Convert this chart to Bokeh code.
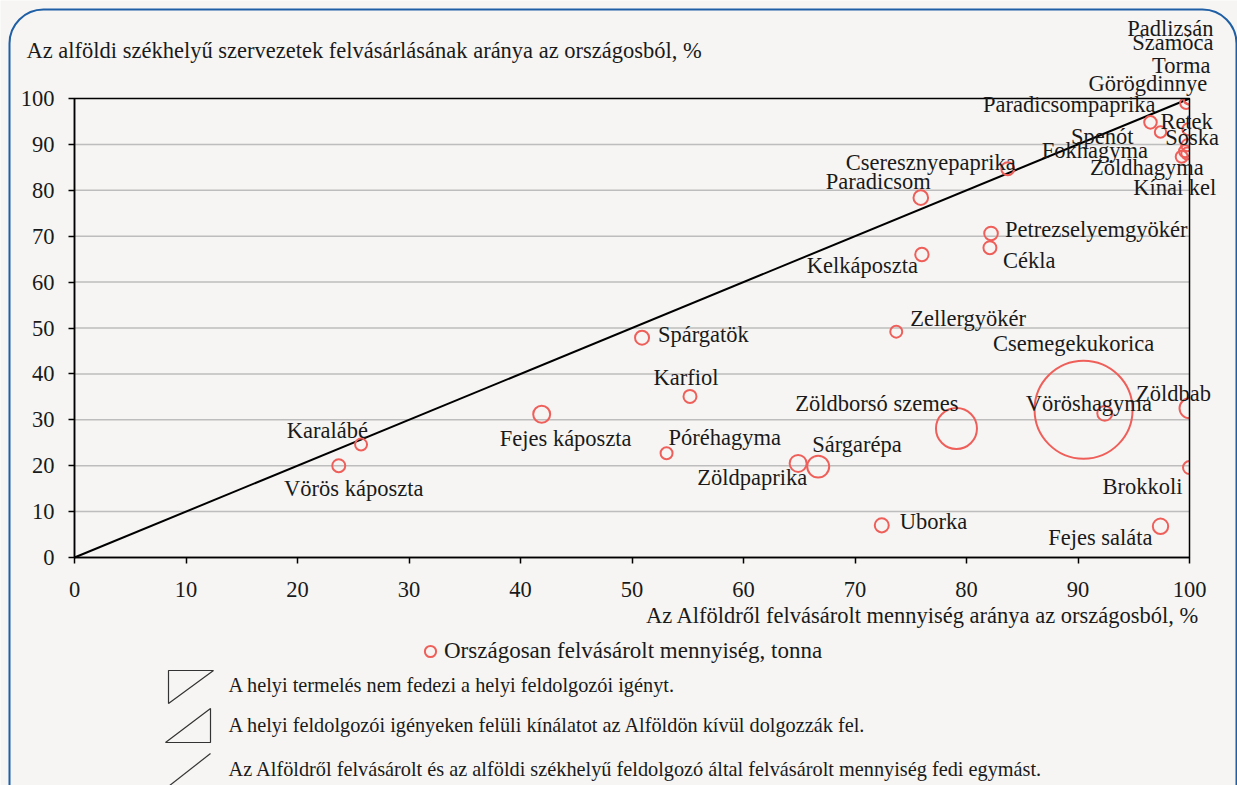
from bokeh.plotting import figure
from bokeh.models import (ColumnDataSource, LabelSet, Label, BoxAnnotation, PolyAnnotation,
                          Legend, LegendItem, FixedTicker, Range1d)
from bokeh.embed import file_html
from bokeh.resources import INLINE
from bokeh.core.properties import value, field

# ---------------- data ----------------
products = ["Vörös káposzta", "Karalábé", "Fejes káposzta", "Spárgatök", "Karfiol", "Póréhagyma",
            "Zöldpaprika", "Sárgarépa", "Zöldborsó szemes", "Csemegekukorica", "Vöröshagyma",
            "Zöldbab", "Brokkoli", "Fejes saláta", "Uborka", "Zellergyökér", "Kelkáposzta",
            "Paradicsom", "Cseresznyepaprika", "Petrezselyemgyökér", "Cékla", "Görögdinnye",
            "Torma", "Szamóca", "Padlizsán", "Paradicsompaprika", "Retek", "Spenót", "Sóska",
            "Fokhagyma", "Zöldhagyma", "Kínai kel"]
# Az Alföldről felvásárolt mennyiség aránya az országosból, %
alfold_share = [23.7, 25.7, 41.9, 50.9, 55.2, 53.1, 64.9, 66.7, 79.1, 90.5, 92.4,
                100.0, 100.0, 97.4, 72.4, 73.7, 76.0, 75.9, 83.7, 82.2, 82.1, 99.7,
                100.0, 100.0, 100.0, 96.5, 99.9, 97.4, 99.8, 99.6, 99.3, 99.8]
# Az alföldi székhelyű szervezetek felvásárlásának aránya az országosból, %
org_share = [20.0, 24.6, 31.2, 47.9, 35.1, 22.7, 20.5, 19.8, 28.1, 32.2, 31.4,
             32.5, 19.6, 6.8, 7.0, 49.2, 66.0, 78.4, 84.7, 70.6, 67.5, 99.0,
             100.0, 100.0, 100.0, 94.8, 93.3, 92.7, 89.8, 88.5, 87.3, 88.0]
# Országosan felvásárolt mennyiség, tonna
tonnes = [7900, 6700, 13500, 9200, 7900, 6700, 13500, 22700, 78800, 450000, 10500,
          18700, 7900, 11100, 9200, 6700, 8400, 10000, 7900, 8700, 7900, 6700,
          6700, 6700, 6700, 7400, 6700, 6100, 6700, 6700, 6700, 6700]

diag_x = [0, 100]
diag_y = [0, 100]
x_ticks = [0, 10, 20, 30, 40, 50, 60, 70, 80, 90, 100]
y_ticks = [0, 10, 20, 30, 40, 50, 60, 70, 80, 90, 100]

y_title = "Az alföldi székhelyű szervezetek felvásárlásának aránya az országosból, %"
x_title = "Az Alföldről felvásárolt mennyiség aránya az országosból, %"
bubble_legend = "Országosan felvásárolt mennyiség, tonna"
legend_rows = ["A helyi termelés nem fedezi a helyi feldolgozói igényt.",
               "A helyi feldolgozói igényeken felüli kínálatot az Alföldön kívül dolgozzák fel.",
               "Az Alföldről felvásárolt és az alföldi székhelyű feldolgozó által felvásárolt mennyiség fedi egymást."]

# ---------------- label placement (align, dx px, dy px downward) ----------------
label_pos = {
    "Vörös káposzta": ("center", 15, 23), "Karalábé": ("right", 7, -14),
    "Fejes káposzta": ("center", 24, 24), "Spárgatök": ("left", 16, -3),
    "Karfiol": ("center", -4, -19), "Póréhagyma": ("left", 2, -16),
    "Zöldpaprika": ("right", 9, 14), "Sárgarépa": ("left", -6, -22),
    "Zöldborsó szemes": ("right", 2, -25), "Csemegekukorica": ("center", -10, -66),
    "Vöröshagyma": ("center", -16, -10), "Zöldbab": ("center", -16, -15),
    "Brokkoli": ("right", -7, 19), "Fejes saláta": ("right", -8, 11),
    "Uborka": ("left", 18, -4), "Zellergyökér": ("left", 14, -13),
    "Kelkáposzta": ("right", -4, 11), "Paradicsom": ("right", 10, -16),
    "Cseresznyepaprika": ("right", 8, -6), "Petrezselyemgyökér": ("left", 14, -4),
    "Cékla": ("left", 13, 13), "Görögdinnye": ("right", 21, -20),
    "Torma": ("right", 21, -33), "Szamóca": ("right", 24, -56),
    "Padlizsán": ("right", 24, -70), "Paradicsompaprika": ("right", 5, -18),
    "Retek": ("left", -28, -8), "Spenót": ("right", -27, 4),
    "Sóska": ("left", -22, -8), "Fokhagyma": ("right", -37, -1),
    "Zöldhagyma": ("right", 22, 11), "Kínai kel": ("right", 29, 34),
}

BG = "#f6f5f3"
RED = "#ef5f5a"
TXT = "#1a1a1a"
FONT = "Liberation Serif"
FS = "22.5px"
MAX_D = 98.0  # diameter (px) of the largest bubble

W, H = 1237, 785
# pixel position of the plot area (data 0..100) inside the canvas
PX0, PX1, PY100, PY0 = 74.0, 1189.0, 98.0, 557.0
SX = (PX1 - PX0) / 100.0
SY = (PY0 - PY100) / 100.0

def to_data(px, py):
    return (px - PX0) / SX, (PY0 - py) / SY

x_start, y_end = to_data(0, 0)
x_end, y_start = to_data(W, H)

p = figure(width=W, height=H, x_range=Range1d(x_start, x_end), y_range=Range1d(y_start, y_end),
           output_backend="svg", toolbar_location=None, title=None, min_border=0)
p.background_fill_color = BG
p.border_fill_color = BG
p.outline_line_color = None

for ax, ticks in ((p.xaxis[0], x_ticks), (p.yaxis[0], y_ticks)):
    ax.ticker = FixedTicker(ticks=ticks)
    ax.fixed_location = 0
    ax.bounds = (0, 100)
    ax.major_tick_out = 6
    ax.major_tick_in = 0
    ax.minor_tick_line_color = None
    ax.axis_line_color = "black"
    ax.axis_line_width = 1.5
    ax.major_tick_line_color = "black"
    ax.major_tick_line_width = 1.5
    ax.major_label_text_font = FONT
    ax.major_label_text_font_size = FS
    ax.major_label_text_color = TXT
p.xaxis.major_label_standoff = 18
p.yaxis.major_label_standoff = 14

p.xgrid.visible = False
p.ygrid.visible = False
grid_y = [v for v in y_ticks if 0 < v < 100]
p.segment(x0=[x_ticks[0]] * len(grid_y), x1=[x_ticks[-1]] * len(grid_y), y0=grid_y, y1=grid_y,
          line_color="#bdbdbd", line_width=1.5)

p.line(diag_x, diag_y, line_color="black", line_width=2)

sizes = [MAX_D * (t / max(tonnes)) ** 0.5 for t in tonnes]
src = ColumnDataSource(dict(
    x=alfold_share, y=org_share, name=products, size=sizes,
    align=[label_pos[n][0] for n in products],
    dx=[label_pos[n][1] for n in products],
    dy=[-label_pos[n][2] for n in products],
))
r = p.scatter("x", "y", size="size", source=src, marker="circle", fill_color=None,
              line_color=RED, line_width=2)

# masks reproducing the clipping of bubbles at the plot-area edge
ex = 16 / SX
ey = 16 / SY
p.add_layout(BoxAnnotation(left=100, right=100 + ex, bottom=0.3, top=100 + ey,
                           fill_color=BG, fill_alpha=1, line_color=None))
p.add_layout(BoxAnnotation(left=90, right=100 + ex, bottom=100, top=100 + ey,
                           fill_color=BG, fill_alpha=1, line_color=None))
# plot-area border (top and right)
p.add_layout(BoxAnnotation(left=0, right=100, bottom=0, top=100, fill_alpha=0,
                           line_color="black", line_alpha=1, line_width=1.5))

labels = LabelSet(x="x", y="y", text="name", source=src, x_offset="dx", y_offset="dy",
                  text_align=field("align"), text_baseline="middle",
                  text_font=value(FONT), text_font_size=FS, text_color=TXT, level="overlay")
p.add_layout(labels)

# axis titles
tx, ty = to_data(26, 50)
p.add_layout(Label(x=tx, y=ty, text=y_title, text_align="left", text_baseline="middle",
                   text_font=FONT, text_font_size=FS, text_color=TXT, level="overlay"))
tx, ty = to_data(1199, 615)
p.add_layout(Label(x=tx, y=ty, text=x_title, text_align="right", text_baseline="middle",
                   text_font=FONT, text_font_size=FS, text_color=TXT, level="overlay"))

# bubble legend
legend = Legend(items=[LegendItem(label=bubble_legend, renderers=[r])],
                location=(430 - 14, H - (651 + 14)),
                glyph_width=28, glyph_height=28, label_standoff=-4, padding=0, margin=0,
                border_line_color=None, background_fill_alpha=0,
                label_text_font=FONT, label_text_font_size="23px", label_text_color=TXT)
p.add_layout(legend)

# triangle legend rows
tri1 = [(168, 670), (213, 670), (168, 703)]
tri2 = [(165, 742), (210, 708), (210, 742)]
tri3 = [(150, 800), (210, 753)]
for pts in (tri1, tri2, tri3):
    dpts = [to_data(a, b) for a, b in pts]
    p.add_layout(PolyAnnotation(xs=[q[0] for q in dpts], ys=[q[1] for q in dpts],
                                fill_alpha=0, line_color="#333333", line_alpha=1,
                                line_width=1.2))
for txt, yy in zip(legend_rows, (684, 724, 768)):
    tx, ty = to_data(228, yy)
    p.add_layout(Label(x=tx, y=ty, text=txt, text_align="left", text_baseline="middle",
                       text_font=FONT, text_font_size="20.3px", text_color=TXT, level="overlay"))

# rounded frame of the chart
l, t = to_data(9, 9)
rr, b = to_data(1236, 860)
p.add_layout(BoxAnnotation(left=l, right=rr, top=t, bottom=b, border_radius=34,
                           fill_alpha=0, line_color="#1f5fa6", line_alpha=1, line_width=2,
                           level="overlay"))

open("out.html", "w").write(file_html(p, INLINE))
